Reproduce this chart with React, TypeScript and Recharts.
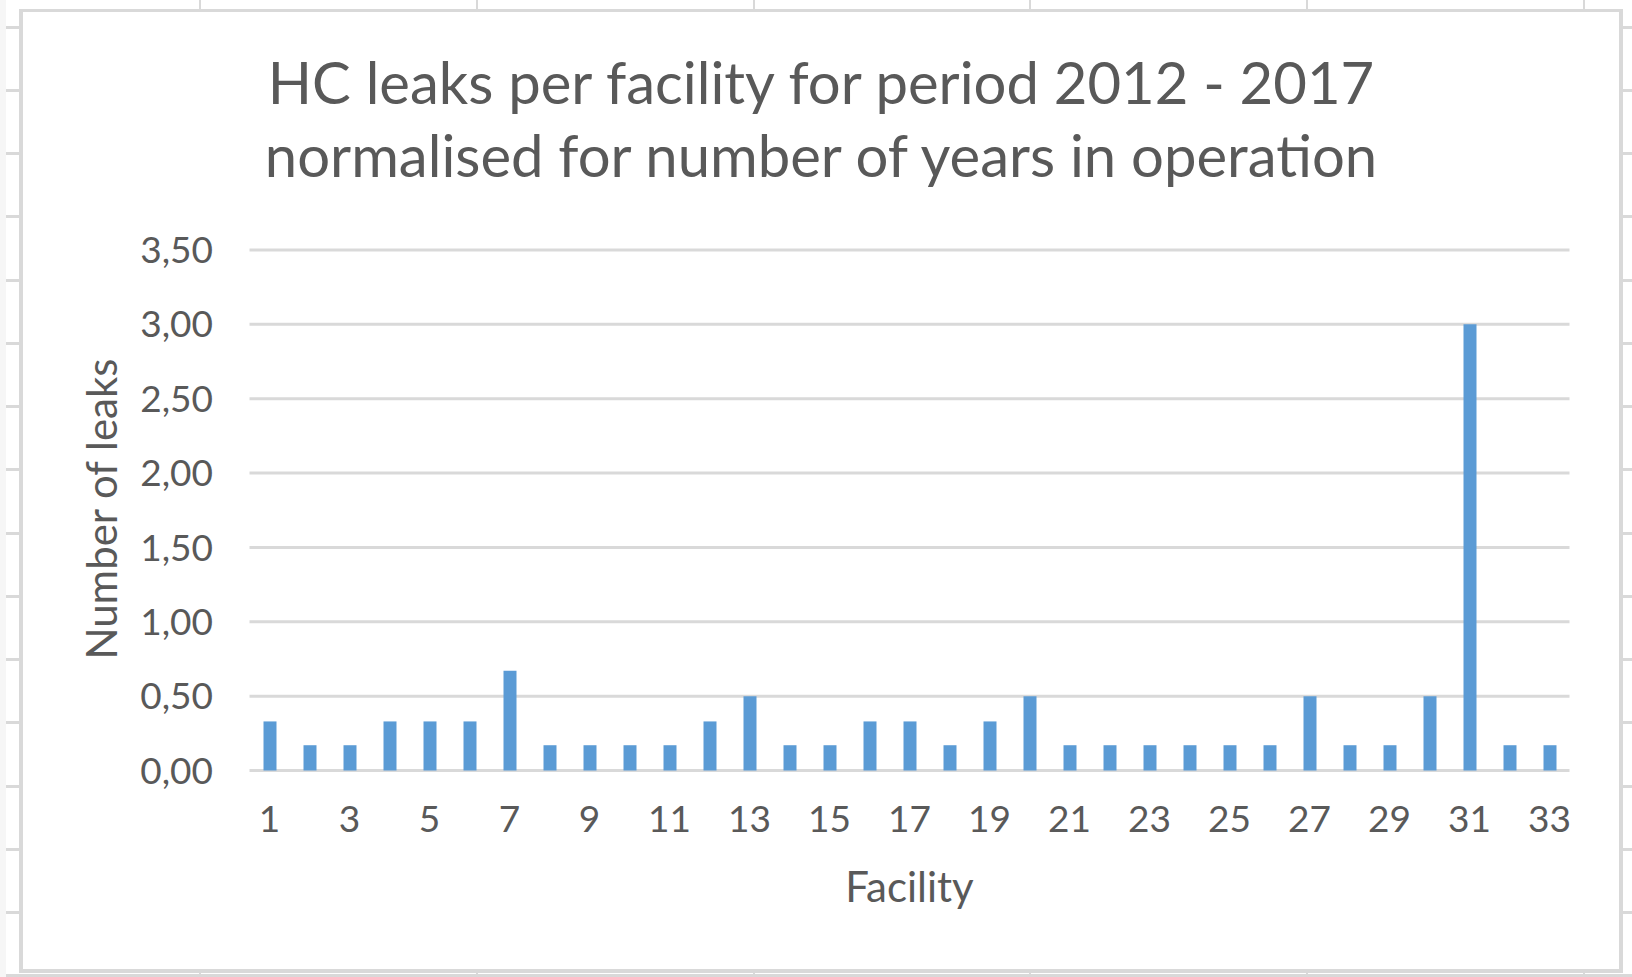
import React from 'react';
import { BarChart, Bar, XAxis, YAxis, CartesianGrid } from 'recharts';

// leaks per facility, 2012-2017, divided by years in operation
const facilities = [
  '1', '2', '3', '4', '5', '6', '7', '8', '9', '10', '11',
  '12', '13', '14', '15', '16', '17', '18', '19', '20', '21', '22',
  '23', '24', '25', '26', '27', '28', '29', '30', '31', '32', '33',
];
const leaksPerYear = [
  0.33, 0.17, 0.17, 0.33, 0.33, 0.33, 0.67, 0.17, 0.17, 0.17, 0.17,
  0.33, 0.5, 0.17, 0.17, 0.33, 0.33, 0.17, 0.33, 0.5, 0.17, 0.17,
  0.17, 0.17, 0.17, 0.17, 0.5, 0.17, 0.17, 0.5, 3.0, 0.17, 0.17,
];
const yTicks = [0, 0.5, 1, 1.5, 2, 2.5, 3, 3.5];

const titleLines = [
  'HC leaks per facility for period 2012 - 2017',
  'normalised for number of years in operation',
];

const chartData = facilities.map((facility, i) => ({ facility, leaks: leaksPerYear[i] }));

const FONT = 'Lato, "Open Sans", sans-serif';
const TEXT = '#595959';
const LINE = '#d9d9d9';
const BAR = '#5b9bd5';

const W = 1632;
const H = 977;
const PLOT_LEFT = 249.5;
const PLOT_RIGHT = 1569.5;
const PLOT_TOP = 250;
const PLOT_BOTTOM = 770.5;
const Y_AXIS_W = 200;
const X_AXIS_H = 100;

// spreadsheet cells behind the chart object
const sheetCols = [200, 477, 754, 1030, 1307, 1584];
const sheetRows = Array.from({ length: 16 }, (_, k) => 27 + 63.25 * k);

const fmt = (v: number) => v.toFixed(2).replace('.', ',');

export default function App() {
  const tickStyle = { fill: TEXT, fontSize: 37, fontFamily: FONT };

  return (
    <div style={{ position: 'fixed', left: 0, top: 0, width: W, height: H, background: '#fff', overflow: 'hidden' }}>
      {/* sheet background */}
      <div style={{ position: 'absolute', left: 0, top: 0, width: 6, height: H, background: '#f6f6f6' }} />
      {sheetRows.map((y) => (
        <div key={'r' + y} style={{ position: 'absolute', left: 6, top: y - 1.5, width: W - 6, height: 3, background: LINE }} />
      ))}
      {sheetCols.map((x) => (
        <div key={'c' + x} style={{ position: 'absolute', left: x - 1, top: 0, width: 2, height: H, background: LINE }} />
      ))}

      {/* chart area */}
      <div
        style={{
          position: 'absolute',
          left: 19,
          top: 9,
          width: 1623 - 19,
          height: 973 - 9,
          boxSizing: 'border-box',
          borderTop: `3px solid ${LINE}`,
          borderBottom: `4px solid ${LINE}`,
          borderLeft: `4px solid ${LINE}`,
          borderRight: `4px solid ${LINE}`,
          background: '#fff',
        }}
      />

      <div
        style={{
          position: 'absolute',
          left: 21,
          top: 45,
          width: 1600,
          textAlign: 'center',
          fontFamily: FONT,
          fontSize: 58,
          lineHeight: '73px',
          color: TEXT,
          whiteSpace: 'nowrap',
        }}
      >
        {titleLines.map((t) => (
          <div key={t}>{t}</div>
        ))}
      </div>

      <div
        style={{
          position: 'absolute',
          left: 101,
          top: 509,
          transform: 'translate(-50%, -50%) rotate(-90deg)',
          fontFamily: FONT,
          fontSize: 42,
          lineHeight: 1.2,
          color: TEXT,
          whiteSpace: 'nowrap',
        }}
      >
        Number of leaks
      </div>

      <div
        style={{
          position: 'absolute',
          left: PLOT_LEFT,
          top: 861,
          width: PLOT_RIGHT - PLOT_LEFT,
          textAlign: 'center',
          fontFamily: FONT,
          fontSize: 42,
          lineHeight: 1.2,
          color: TEXT,
        }}
      >
        Facility
      </div>

      <div style={{ position: 'absolute', left: 0, top: 0 }}>
        <BarChart
          width={W}
          height={H}
          data={chartData}
          margin={{
            top: PLOT_TOP,
            right: W - PLOT_RIGHT,
            bottom: H - PLOT_BOTTOM - X_AXIS_H,
            left: PLOT_LEFT - Y_AXIS_W,
          }}
        >
          <CartesianGrid vertical={false} stroke={LINE} strokeWidth={3} />
          <XAxis
            dataKey="facility"
            interval={1}
            axisLine={false}
            tickLine={false}
            tickSize={0}
            tickMargin={35}
            height={X_AXIS_H}
            tick={tickStyle}
          />
          <YAxis
            domain={[0, 3.5]}
            ticks={yTicks}
            tickFormatter={fmt}
            axisLine={false}
            tickLine={false}
            tickSize={0}
            tickMargin={36.5}
            width={Y_AXIS_W}
            tick={tickStyle}
          />
          <Bar dataKey="leaks" fill={BAR} barSize={13} isAnimationActive={false} />
        </BarChart>
      </div>
    </div>
  );
}
